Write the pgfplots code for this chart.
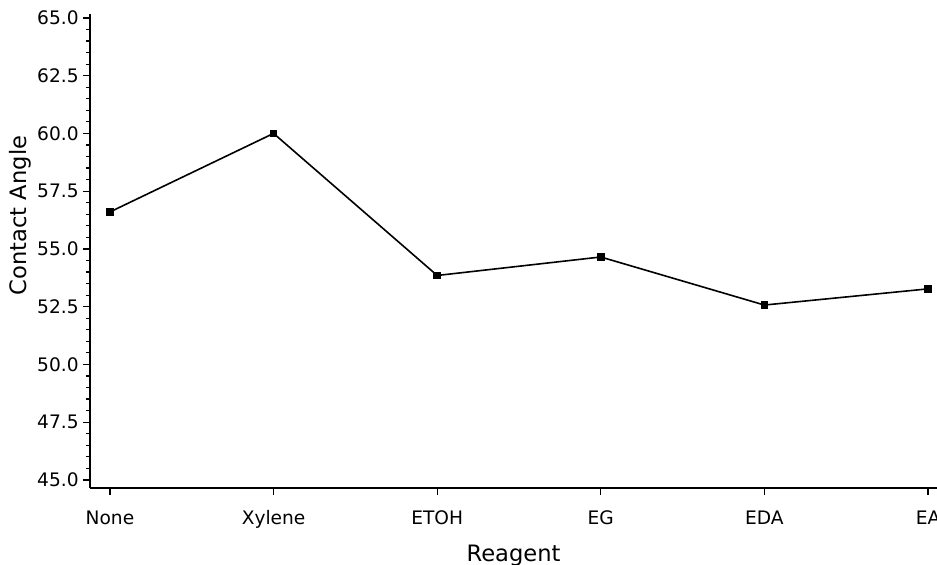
\documentclass[border=0pt]{standalone}
\usepackage{pgfplots}
\pgfplotsset{compat=1.18}
\usepackage{fontspec}
\setmainfont{DejaVu Sans}
\begin{document}
\begin{tikzpicture}
\begin{axis}[name=a,
  scale only axis,
  width=423.5pt, height=237pt,
  xmin=-0.122, xmax=5.055,
  ymin=44.65, ymax=65.17,
  axis x line*=bottom, axis y line*=left,
  tick align=outside,
  xtick={0,1,2,3,4,5},
  xticklabels={None,Xylene,ETOH,EG,EDA,EA},
  ytick={45,47.5,50,52.5,55,57.5,60,62.5,65},
  minor y tick num=4,
  /pgf/number format/assume math mode=true,
  tick label style={font=\fontsize{9.3}{11}\selectfont},
  xticklabel style={text height=7pt, text depth=0pt, yshift=-4pt},
  yticklabel style={inner sep=2pt, /pgf/number format/.cd, fixed, fixed zerofill, precision=1},
  label style={font=\fontsize{11.3}{13}\selectfont},
  major tick length=3.5pt, minor tick length=2pt,
  xlabel={Reagent}, ylabel={Contact Angle},
  xlabel style={at={(axis description cs:0.5,0)}, anchor=base, yshift=-37pt},
  ylabel style={at={(axis description cs:0,0.575)}, anchor=center, yshift=35pt},
  every axis plot/.append style={line width=0.8pt},
  axis line style={line width=0.8pt},
  every tick/.style={black, line width=0.6pt},
]
\addplot[black, mark=square*, mark size=1.5pt] coordinates {
(0,56.6) (1,60.0) (2,53.85) (3,54.65) (4,52.57) (5,53.27)
};
\end{axis}
\pgfresetboundingbox
\useasboundingbox ([xshift=-45pt,yshift=-38.5pt]a.south west) rectangle ([yshift=7pt]a.north east);
\end{tikzpicture}
\end{document}
